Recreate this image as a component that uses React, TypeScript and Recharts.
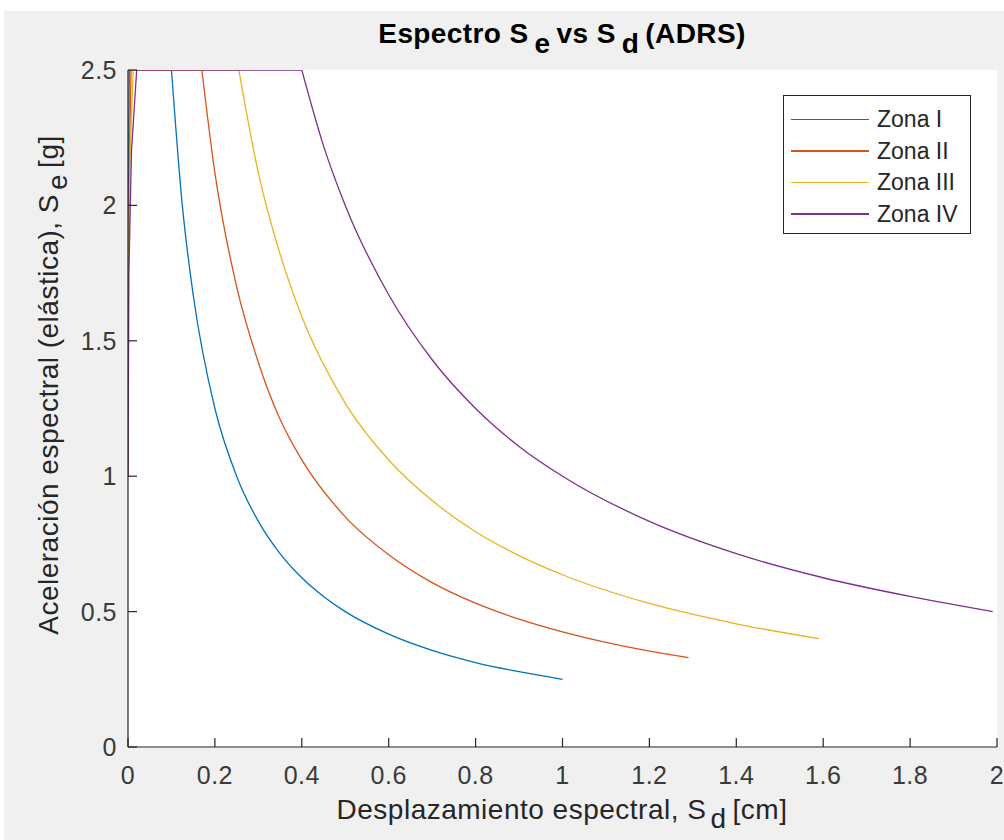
import { LineChart, Line, XAxis, YAxis, CartesianGrid } from "recharts";

// ticks
const SD_TICKS = [0, 0.2, 0.4, 0.6, 0.8, 1, 1.2, 1.4, 1.6, 1.8, 2];
const SE_TICKS = [0, 0.5, 1, 1.5, 2, 2.5];

// Zona I
const zona1Rise = [
  { sd: 0, se: 1.0 }, { sd: 0.001, se: 1.9 }, { sd: 0.002, se: 2.3 }, { sd: 0.003, se: 2.5 }, { sd: 0.1, se: 2.5 },
];
const zona1Fall = [
  { sd: 0.1, se: 2.5 }, { sd: 0.125, se: 2.0 }, { sd: 0.15, se: 1.67 }, { sd: 0.2, se: 1.25 },
  { sd: 0.25, se: 1.0 }, { sd: 0.3, se: 0.833 }, { sd: 0.35, se: 0.714 }, { sd: 0.4, se: 0.625 },
  { sd: 0.45, se: 0.556 }, { sd: 0.5, se: 0.5 }, { sd: 0.6, se: 0.417 }, { sd: 0.7, se: 0.357 },
  { sd: 0.8, se: 0.312 }, { sd: 0.9, se: 0.278 }, { sd: 1.0, se: 0.25 },
];

// Zona II
const zona2Rise = [
  { sd: 0, se: 1.0 }, { sd: 0.001, se: 1.8 }, { sd: 0.004, se: 2.25 }, { sd: 0.007, se: 2.5 }, { sd: 0.17, se: 2.5 },
];
const zona2Fall = [
  { sd: 0.17, se: 2.5 }, { sd: 0.2, se: 2.12 }, { sd: 0.25, se: 1.7 }, { sd: 0.3, se: 1.42 },
  { sd: 0.35, se: 1.21 }, { sd: 0.4, se: 1.06 }, { sd: 0.5, se: 0.85 }, { sd: 0.6, se: 0.71 },
  { sd: 0.7, se: 0.607 }, { sd: 0.8, se: 0.531 }, { sd: 0.9, se: 0.472 }, { sd: 1.0, se: 0.425 },
  { sd: 1.2, se: 0.354 }, { sd: 1.29, se: 0.33 },
];

// Zona III
const zona3Rise = [
  { sd: 0, se: 1.0 }, { sd: 0.001, se: 1.75 }, { sd: 0.005, se: 2.2 }, { sd: 0.012, se: 2.5 }, { sd: 0.255, se: 2.5 },
];
const zona3Fall = [
  { sd: 0.255, se: 2.5 }, { sd: 0.3, se: 2.12 }, { sd: 0.35, se: 1.82 }, { sd: 0.4, se: 1.59 },
  { sd: 0.5, se: 1.27 }, { sd: 0.6, se: 1.06 }, { sd: 0.7, se: 0.91 }, { sd: 0.8, se: 0.795 },
  { sd: 0.9, se: 0.707 }, { sd: 1.0, se: 0.636 }, { sd: 1.2, se: 0.53 }, { sd: 1.4, se: 0.455 },
  { sd: 1.59, se: 0.4 },
];

// Zona IV
const zona4Rise = [
  { sd: 0, se: 1.0 }, { sd: 0.002, se: 1.75 }, { sd: 0.008, se: 2.2 }, { sd: 0.02, se: 2.5 }, { sd: 0.4, se: 2.5 },
];
const zona4Fall = [
  { sd: 0.4, se: 2.5 }, { sd: 0.45, se: 2.22 }, { sd: 0.5, se: 2.0 }, { sd: 0.6, se: 1.67 },
  { sd: 0.7, se: 1.43 }, { sd: 0.8, se: 1.25 }, { sd: 0.9, se: 1.11 }, { sd: 1.0, se: 1.0 },
  { sd: 1.2, se: 0.833 }, { sd: 1.4, se: 0.714 }, { sd: 1.6, se: 0.625 }, { sd: 1.8, se: 0.556 },
  { sd: 1.99, se: 0.5 },
];

const ZONES = [
  { name: "Zona I", color: "#0072BD", rise: zona1Rise, fall: zona1Fall },
  { name: "Zona II", color: "#D95319", rise: zona2Rise, fall: zona2Fall },
  { name: "Zona III", color: "#EDB120", rise: zona3Rise, fall: zona3Fall },
  { name: "Zona IV", color: "#7E2F8E", rise: zona4Rise, fall: zona4Fall },
];

const FONT = '"Liberation Sans", Arial, Helvetica, sans-serif';
const AXIS = "#262626";
const TICK_COLOR = "#3a3a3a";
const TICK_FS = 25;

const fmt = (v: number) => String(Number(v.toFixed(1)));

const XTick = (props: any) => {
  const { x, y, payload } = props;
  return (
    <g>
      <line x1={x} x2={x} y1={y} y2={y - 9} stroke={AXIS} strokeWidth={1.2} />
      <text x={x} y={y + 37} textAnchor="middle" fontSize={TICK_FS} fontFamily={FONT} fill={TICK_COLOR} letterSpacing={0.5}>
        {fmt(payload.value)}
      </text>
    </g>
  );
};

const YTick = (props: any) => {
  const { x, y, payload } = props;
  return (
    <g>
      <line x1={x} x2={x + 9} y1={y} y2={y} stroke={AXIS} strokeWidth={1.2} />
      <text x={x - 11} y={y + 9} textAnchor="end" fontSize={TICK_FS} fontFamily={FONT} fill={TICK_COLOR} letterSpacing={0.5}>
        {fmt(payload.value)}
      </text>
    </g>
  );
};

export default function App() {
  return (
    <div style={{ position: "absolute", left: 0, top: 0, width: 1004, height: 840, background: "#fff", overflow: "hidden" }}>
      <div style={{ position: "absolute", left: 4, top: 11, width: 1000, height: 829, background: "#f0f0f0" }} />
      <div style={{ position: "absolute", left: 0, top: 0 }}>
        <LineChart width={1004} height={840} margin={{ top: 70, right: 7, bottom: 92, left: 127 }}>
          <CartesianGrid fill="#ffffff" stroke="none" horizontal={false} vertical={false} />
          <XAxis
            type="number"
            dataKey="sd"
            domain={[0, 2]}
            ticks={SD_TICKS}
            height={1}
            tickSize={0}
            tickMargin={0}
            tickLine={false}
            tick={<XTick />}
            axisLine={{ stroke: AXIS, strokeWidth: 1.2 }}
            allowDataOverflow
          />
          <YAxis
            type="number"
            dataKey="se"
            domain={[0, 2.5]}
            ticks={SE_TICKS}
            width={1}
            tickSize={0}
            tickMargin={0}
            tickLine={false}
            tick={<YTick />}
            axisLine={{ stroke: AXIS, strokeWidth: 1.2 }}
            allowDataOverflow
          />
          {ZONES.map((z) => [
            <Line
              key={z.name + "-rise"}
              data={z.rise}
              dataKey="se"
              type="linear"
              stroke={z.color}
              strokeWidth={1.3}
              dot={false}
              isAnimationActive={false}
            />,
            <Line
              key={z.name + "-fall"}
              data={z.fall}
              dataKey="se"
              type="monotone"
              stroke={z.color}
              strokeWidth={1.3}
              dot={false}
              isAnimationActive={false}
            />,
          ])}
        </LineChart>
      </div>

      {/* titles */}
      <svg width={1004} height={840} style={{ position: "absolute", left: 0, top: 0, pointerEvents: "none" }}>
        <text x={562} y={43} textAnchor="middle" fontFamily={FONT} fontWeight="bold" fontSize={28} fill="#000" letterSpacing={0.4}>
          Espectro S<tspan dx={6} dy={10}>e</tspan>
          <tspan dx={6} dy={-10}>vs S</tspan>
          <tspan dx={6} dy={10}>d</tspan>
          <tspan dx={6} dy={-10}>(ADRS)</tspan>
        </text>
        <text x={562} y={819} textAnchor="middle" fontFamily={FONT} fontSize={28} fill={AXIS} letterSpacing={0.5}>
          Desplazamiento espectral, S<tspan dx={4} dy={9}>d</tspan>
          <tspan dx={6} dy={-9}>[cm]</tspan>
        </text>
        <text
          transform="translate(58,385) rotate(-90)"
          textAnchor="middle"
          fontFamily={FONT}
          fontSize={28}
          fill={AXIS}
          letterSpacing={0.5}
        >
          Aceleración espectral (elástica), S<tspan dx={4} dy={9}>e</tspan>
          <tspan dx={6} dy={-9}>[g]</tspan>
        </text>
      </svg>

      {/* legend */}
      <div
        style={{
          position: "absolute",
          left: 783,
          top: 95,
          width: 186,
          height: 137,
          border: `1px solid ${AXIS}`,
          background: "#fff",
          fontFamily: FONT,
          fontSize: 23,
          color: AXIS,
        }}
      >
        {ZONES.map((z, i) => (
          <div key={z.name} style={{ position: "absolute", left: 0, top: 8 + i * 31.5, height: 31, display: "flex", alignItems: "center" }}>
            <div style={{ marginLeft: 7, width: 78, height: 1.3, background: z.color }} />
            <span style={{ marginLeft: 8, lineHeight: "31px" }}>{z.name}</span>
          </div>
        ))}
      </div>
    </div>
  );
}
